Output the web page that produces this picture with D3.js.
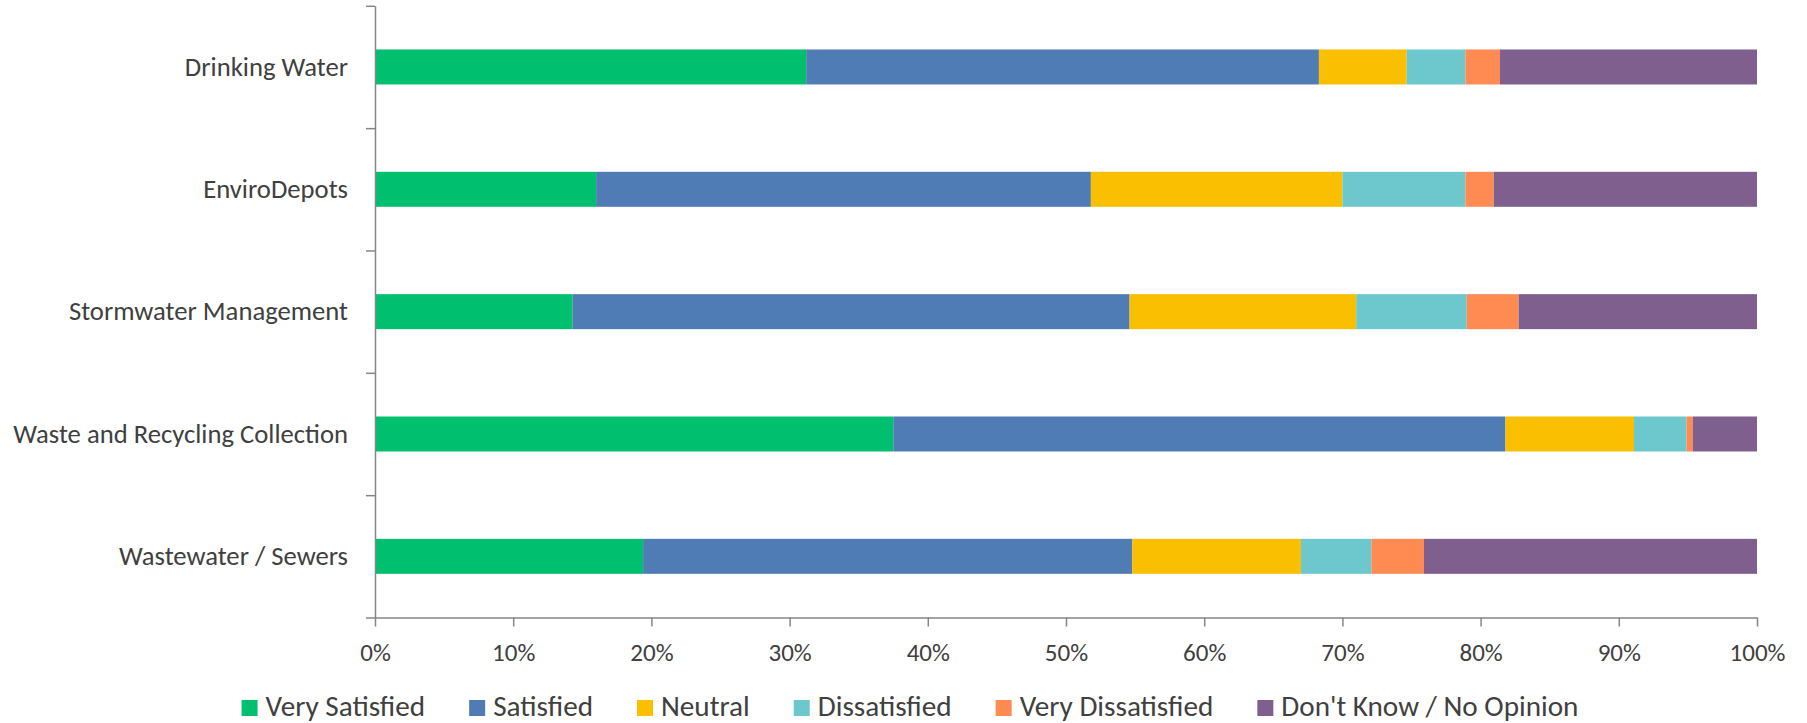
<!DOCTYPE html>
<html><head><meta charset="utf-8">
<script src="https://cdn.jsdelivr.net/npm/d3@7"></script>
<style>body{margin:0;background:#fff;overflow:hidden}</style>
</head><body><svg id="c" width="1807" height="723"></svg>
<script>
// ---------- data ----------
const categories = ["Drinking Water", "EnviroDepots", "Stormwater Management", "Waste and Recycling Collection", "Wastewater / Sewers"];
const seriesNames = ["Very Satisfied", "Satisfied", "Neutral", "Dissatisfied", "Very Dissatisfied", "Don't Know / No Opinion"];
const verySatisfied    = [31.2, 16.0, 14.3, 37.5, 19.4];
const satisfied        = [37.1, 35.8, 40.3, 44.3, 35.4];
const neutral          = [6.35, 18.2, 16.4, 9.3, 12.2];
const dissatisfied     = [4.25, 8.9, 8.0, 3.8, 5.1];
const veryDissatisfied = [2.5, 2.05, 3.75, 0.45, 3.8];
const dontKnow         = [18.6, 19.05, 17.25, 4.65, 24.1];
const xTickValues = [0, 10, 20, 30, 40, 50, 60, 70, 80, 90, 100];
const seriesColors = ["#00BF6F", "#4F7CB5", "#F9BF00", "#6CC8CC", "#FF8B52", "#7E5F8E"];

const seriesValues = [verySatisfied, satisfied, neutral, dissatisfied, veryDissatisfied, dontKnow];
const rows = categories.map((c, i) => {
  const r = {category: c};
  seriesNames.forEach((s, j) => r[s] = seriesValues[j][i]);
  return r;
});

// ---------- layout ----------
const FONT = "Carlito, Lato, 'Liberation Sans', sans-serif";
const TEXT = "#404040", AXIS = "#868686";
const svg = d3.select("#c");
const plotLeft = 375, plotRight = 1757, plotTop = 5.8, plotBottom = 617.5;

function fitSize(text, target) {
  const t = svg.append("text").style("font-family", FONT).style("font-size", "100px").text(text);
  const w = t.node().getComputedTextLength();
  t.remove();
  return 100 * target / w;
}
const catFs = fitSize("Waste and Recycling Collection", 335);
const tickFs = fitSize("10%", 43.3);
const legFs = fitSize("Very Satisfied" + "Satisfied" + "Don't Know / No Opinion", 556.9);

const x = d3.scaleLinear().domain([0, 100]).range([plotLeft, plotRight]);
const y = d3.scaleBand().domain(categories).range([plotTop, plotBottom]).paddingInner(0.714).paddingOuter(0.357);
const yLin = d3.scaleLinear().domain([0, categories.length]).range([plotTop, plotBottom]);

const stack = d3.stack().keys(seriesNames)(rows);
const color = d3.scaleOrdinal().domain(seriesNames).range(seriesColors);

// bars
svg.append("g").selectAll("g").data(stack).join("g")
  .attr("fill", d => color(d.key))
  .selectAll("rect").data(d => d).join("rect")
  .attr("x", d => x(d[0]))
  .attr("width", d => x(d[1]) - x(d[0]))
  .attr("y", d => y(d.data.category))
  .attr("height", y.bandwidth());

// y axis: boundary ticks
const yAxisG = svg.append("g").attr("transform", `translate(${plotLeft},0)`)
  .call(d3.axisLeft(yLin).tickValues(d3.range(categories.length + 1)).tickFormat("").tickSize(9).tickSizeOuter(0));
yAxisG.selectAll("path,line").attr("stroke", AXIS).attr("stroke-width", 1.5);

// y axis labels
const yLab = svg.append("g").attr("transform", `translate(${plotLeft},0)`)
  .call(d3.axisLeft(y).tickSize(0).tickPadding(27));
yLab.select(".domain").remove();
yLab.selectAll("text").attr("fill", TEXT).style("font-family", FONT).style("font-size", catFs + "px");

// x axis
const xPad = 660.7 - plotBottom - 9 - 0.71 * tickFs;
const xAxisG = svg.append("g").attr("transform", `translate(0,${plotBottom})`)
  .call(d3.axisBottom(x).tickValues(xTickValues).tickFormat(d => d + "%").tickSize(9).tickSizeOuter(0).tickPadding(xPad));
xAxisG.selectAll("path,line").attr("stroke", AXIS).attr("stroke-width", 1.5);
xAxisG.selectAll("text").attr("fill", TEXT).style("font-family", FONT).style("font-size", tickFs + "px");

// legend
const sq = 16, sqGap = 8, itemGap = 44;
const legBase = 716.3;
const leg = svg.append("g");
const items = leg.selectAll("g").data(seriesNames).join("g");
items.append("rect").attr("width", sq).attr("height", sq).attr("y", legBase - 16.3).attr("fill", d => color(d));
items.append("text").attr("x", sq + sqGap).attr("y", legBase)
  .attr("fill", TEXT).style("font-family", FONT).style("font-size", legFs + "px").text(d => d);
let cx = 0;
const offsets = [];
items.each(function() {
  offsets.push(cx);
  const w = d3.select(this).select("text").node().getComputedTextLength();
  cx += sq + sqGap + w + itemGap;
});
const total = cx - itemGap;
const start = 910 - total / 2;
items.attr("transform", (d, i) => `translate(${start + offsets[i]},0)`);
</script>
</body></html>
